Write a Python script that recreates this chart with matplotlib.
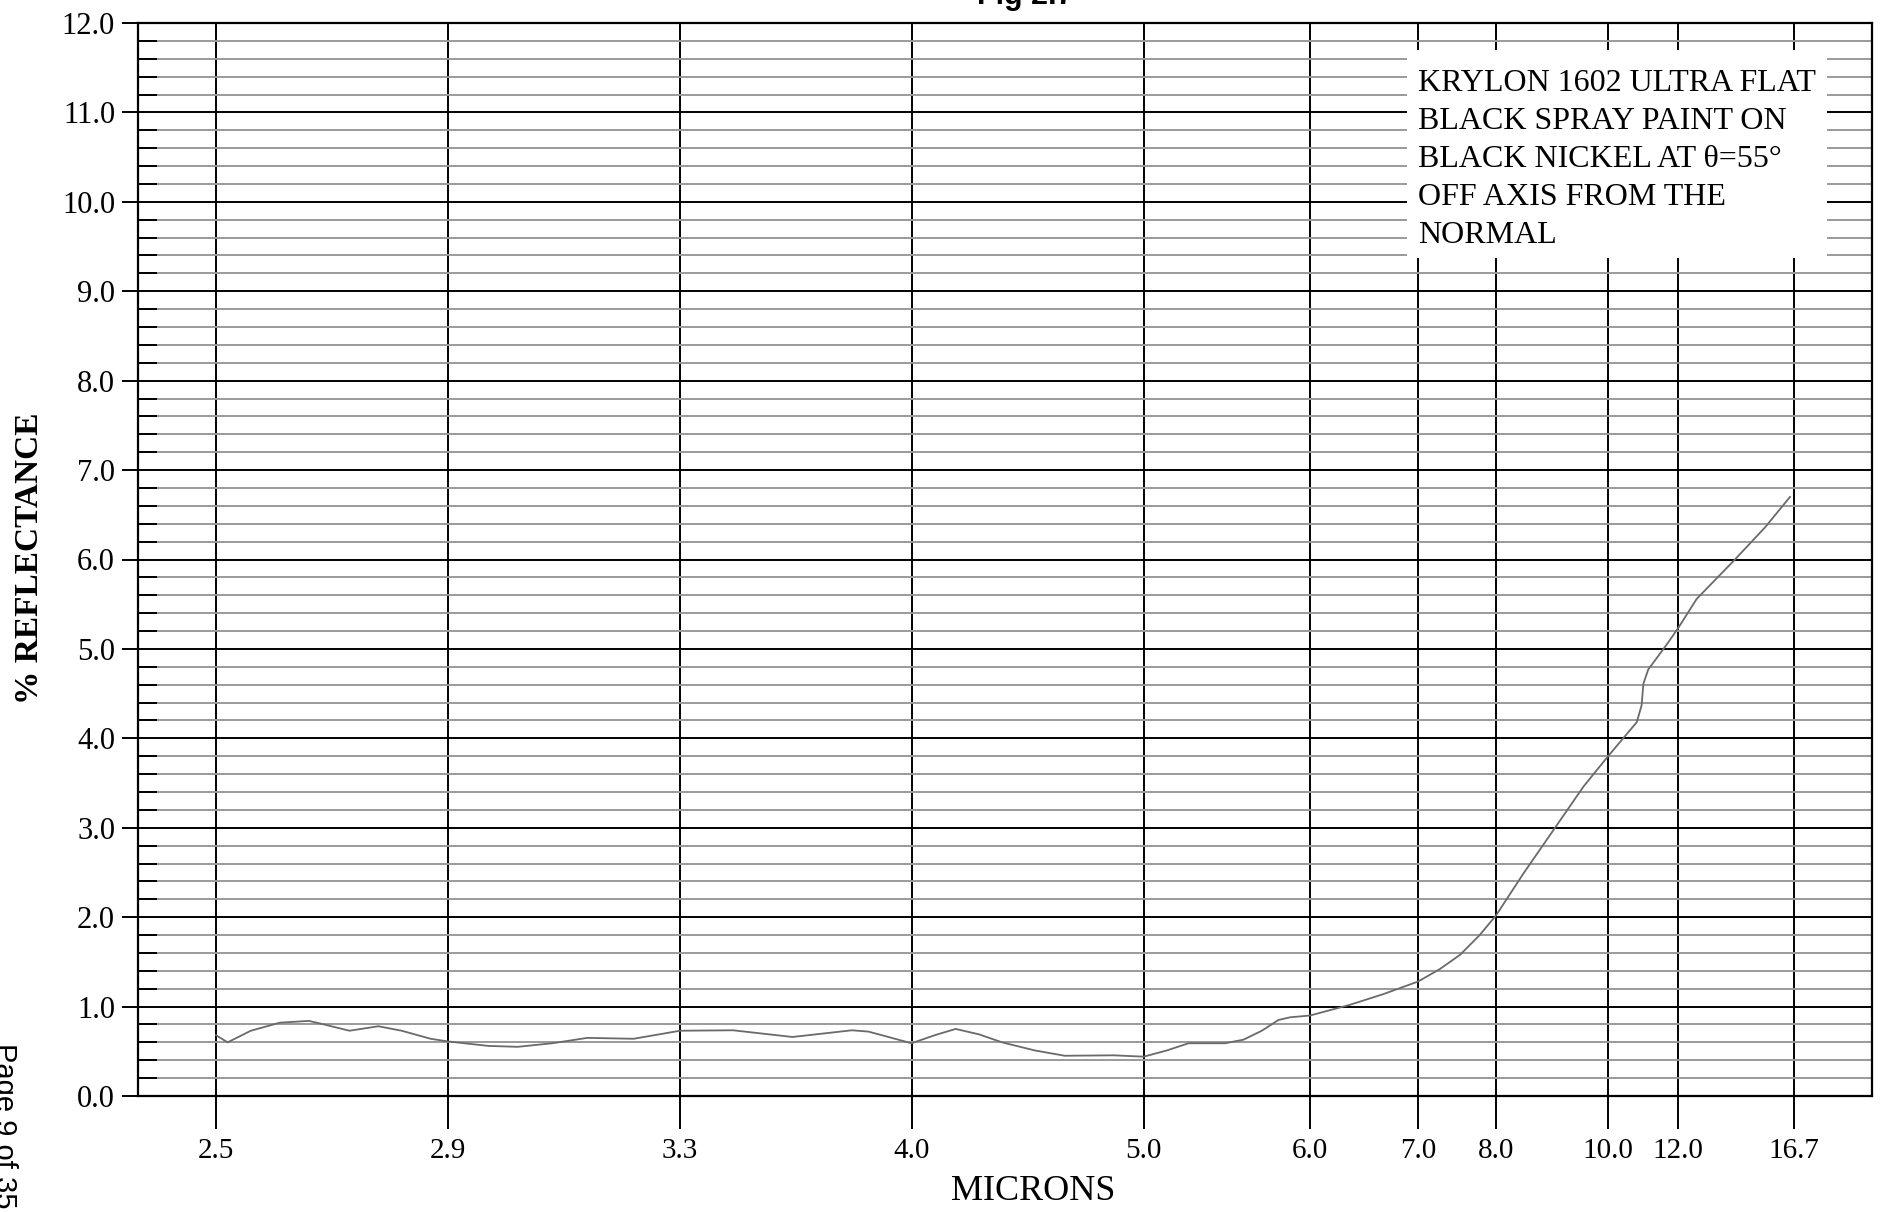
import numpy as np
import matplotlib
matplotlib.use('Agg')
from matplotlib import pyplot as plt
from matplotlib.ticker import FixedLocator, MultipleLocator, NullLocator, FormatStrFormatter
from matplotlib.patches import Rectangle


# wavelength (microns) and % reflectance
microns = [2.50, 2.52, 2.56, 2.61, 2.66, 2.68, 2.73, 2.78, 2.82, 2.87, 2.90, 2.97,
           3.02, 3.08, 3.14, 3.22, 3.30, 3.46, 3.64, 3.82, 3.87, 4.00, 4.10, 4.19, 4.29,
           4.39, 4.53, 4.66, 4.87, 5.00, 5.14, 5.27, 5.49, 5.60, 5.71, 5.81, 5.88, 6.00,
           6.37, 6.68, 7.00, 7.28, 7.54, 7.79, 8.00, 8.49, 9.02, 9.56, 10.00, 10.82,
           10.96, 11.01, 11.15, 11.68, 12.00, 12.76, 14.24, 15.53, 16.54]
reflectance = [0.68, 0.60, 0.73, 0.82, 0.84, 0.81, 0.73, 0.78, 0.73, 0.64, 0.61, 0.56,
               0.55, 0.59, 0.65, 0.64, 0.73, 0.735, 0.66, 0.735, 0.72, 0.59, 0.68, 0.75, 0.69,
               0.60, 0.51, 0.45, 0.455, 0.44, 0.51, 0.59, 0.59, 0.63, 0.73, 0.85, 0.88, 0.90,
               1.02, 1.14, 1.28, 1.42, 1.58, 1.80, 2.02, 2.49, 2.97, 3.46, 3.80, 4.18,
               4.37, 4.61, 4.77, 5.05, 5.23, 5.56, 5.98, 6.36, 6.70]

tick_microns = [2.5, 2.9, 3.3, 4.0, 5.0, 6.0, 7.0, 8.0, 10.0, 12.0, 16.7]
tick_labels = ['2.5', '2.9', '3.3', '4.0', '5.0', '6.0', '7.0', '8.0', '10.0', '12.0', '16.7']

note = 'KRYLON 1602 ULTRA FLAT\nBLACK SPRAY PAINT ON\nBLACK NICKEL AT \u03b8=55\u00b0\nOFF AXIS FROM THE\nNORMAL'

# the chart paper's wavelength axis is piecewise: where each tick sits (axes fraction)
tick_pos = [0.0450, 0.1788, 0.3126, 0.4461, 0.5800, 0.6759, 0.7382, 0.7832, 0.8478, 0.8881, 0.9550]

s_lo = (tick_pos[1] - tick_pos[0]) / (tick_microns[1] - tick_microns[0])
s_hi = (tick_pos[-1] - tick_pos[-2]) / (tick_microns[-1] - tick_microns[-2])
um_ext = [0.0] + tick_microns + [100.0]
pos_ext = ([tick_pos[0] - tick_microns[0] * s_lo] + tick_pos +
           [tick_pos[-1] + (100.0 - tick_microns[-1]) * s_hi])


def fwd(x):
    return np.interp(np.asarray(x, float), um_ext, pos_ext)


def inv(p):
    return np.interp(np.asarray(p, float), pos_ext, um_ext)


serif = 'Liberation Serif'

fig = plt.figure(figsize=(18.83, 12.12), dpi=100)
ax = fig.add_axes([138 / 1883, 116 / 1212, 1734 / 1883, 1073 / 1212])

ax.set_xscale('function', functions=(fwd, inv))
ax.set_xlim(float(inv(0.0)), float(inv(1.0)))
ax.set_ylim(0, 12)

ax.plot(microns, reflectance, color='#6a6a6a', lw=1.3, zorder=5)

# grid
ax.xaxis.set_major_locator(FixedLocator(tick_microns))
ax.xaxis.set_minor_locator(NullLocator())
ax.set_xticklabels(tick_labels)
ax.yaxis.set_major_locator(MultipleLocator(1.0))
ax.yaxis.set_minor_locator(MultipleLocator(0.2))
ax.yaxis.set_major_formatter(FormatStrFormatter('%.1f'))

ax.grid(which='minor', axis='y', color='#9a9a9a', lw=1.4, zorder=1)
ax.grid(which='major', axis='y', color='black', lw=1.4, zorder=2)
ax.grid(which='major', axis='x', color='black', lw=1.4, zorder=2)
ax.set_axisbelow(True)

ax.tick_params(axis='y', which='major', direction='out', length=11.5, width=1.4,
               color='black', pad=5, labelsize=22)
ax.tick_params(axis='y', which='minor', direction='in', length=13.5, width=1.4,
               color='black')
ax.tick_params(axis='x', which='major', direction='out', length=24, width=1.4,
               color='black', pad=6, labelsize=21)
for lab in ax.get_xticklabels() + ax.get_yticklabels():
    lab.set_fontfamily(serif)

for sp in ax.spines.values():
    sp.set_linewidth(1.6)
    sp.set_color('black')

# note box
ax.add_patch(Rectangle((0.732, 0.781), 0.242, 0.194, transform=ax.transAxes,
                       facecolor='white', edgecolor='none', zorder=3))
ax.text(0.738, 0.957, note, transform=ax.transAxes, ha='left', va='top',
        fontsize=23, family=serif, linespacing=1.41, zorder=4)

fig.text(30 / 1883, 1 - 558 / 1212, '% REFLECTANCE', rotation=90, ha='center',
         va='center', fontsize=24, fontweight='bold', family=serif)
fig.text(1033 / 1883, 1 - 1192 / 1212, 'MICRONS', ha='center', va='center',
         fontsize=26, family=serif)

# page header / footer cut off by the crop
fig.text(1025 / 1883, 1 - 4 / 1212, 'Fig 2.7', ha='center', va='baseline',
         fontsize=22, fontweight='bold', family='Liberation Sans')
fig.text(18 / 1883, 1 - 1043 / 1212, 'Page 9 of 35', rotation=-90, ha='right',
         va='top', fontsize=21, family='Liberation Sans')

fig.savefig('out.png', dpi=100, facecolor='white')
